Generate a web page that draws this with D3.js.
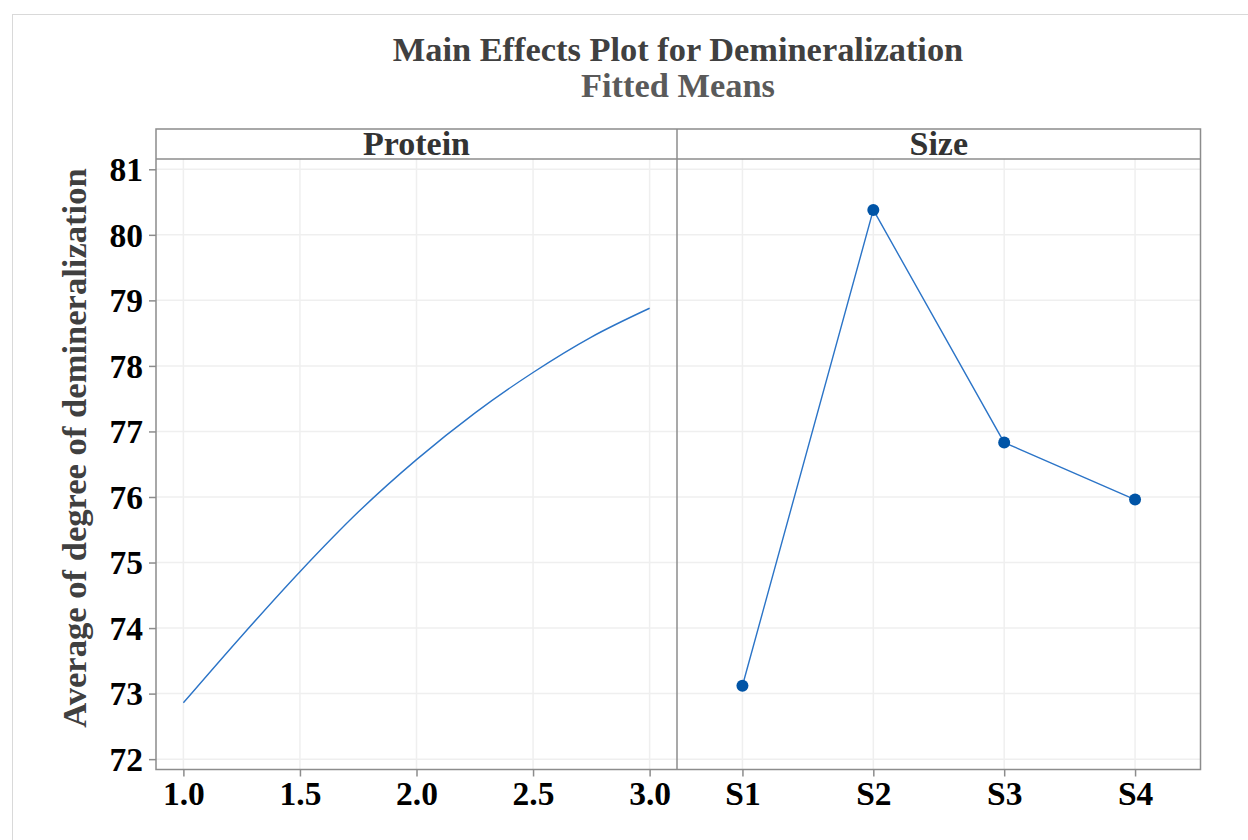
<!DOCTYPE html>
<html>
<head>
<meta charset="utf-8">
<script src="https://cdn.jsdelivr.net/npm/d3@7"></script>
<style>
  html, body { margin: 0; padding: 0; background: #fff; }
  svg { display: block; }
  text { font-family: "Liberation Serif", "Times New Roman", serif; font-weight: bold; }
</style>
</head>
<body>
<svg id="chart" width="1248" height="840"></svg>
<script>
// Fitted means for the continuous factor (Protein)
const proteinLevels = [1.0, 1.25, 1.5, 1.75, 2.0, 2.25, 2.5, 2.75, 3.0];
const proteinMeans  = [72.86, 73.88, 74.86, 75.77, 76.57, 77.28, 77.90, 78.44, 78.88];

// Fitted means for the categorical factor (Size)
const sizeLevels = ["S1", "S2", "S3", "S4"];
const sizeMeans  = [73.12, 80.38, 76.83, 75.96];

// Axis ticks
const yTicks = [72, 73, 74, 75, 76, 77, 78, 79, 80, 81];
const proteinTicks = [1.0, 1.5, 2.0, 2.5, 3.0];

const panelNames = ["Protein", "Size"];

const svg = d3.select("#chart");

// outer frame
svg.append("rect")
  .attr("x", 12.5).attr("y", 14.5)
  .attr("width", 1260).attr("height", 860)
  .attr("fill", "none").attr("stroke", "#d9d9d9").attr("stroke-width", 1);

const lineColor = "#2b74c7";
const dotColor = "#0054a6";
const gridColor = "#efefef";
const borderColor = "#8c8c8c";

const panelTop = 129, stripH = 30, panelBottom = 769.5;
const leftX = 156, midX = 677, rightX = 1200.5;

const y = d3.scaleLinear().domain([71.842, 81.157]).range([panelBottom, panelTop + stripH]);

const xP = d3.scaleLinear().domain([0.8825, 3.1175]).range([leftX, midX]);
const xS = d3.scalePoint().domain(sizeLevels).range([midX, rightX]).padding(0.5);

// titles
svg.append("text")
  .attr("x", 678).attr("y", 61)
  .attr("text-anchor", "middle")
  .attr("font-size", 34.4).attr("fill", "#404040")
  .text("Main Effects Plot for Demineralization");
svg.append("text")
  .attr("x", 678).attr("y", 97)
  .attr("text-anchor", "middle")
  .attr("font-size", 34.4).attr("fill", "#5a5a5a")
  .text("Fitted Means");

// y axis label
svg.append("text")
  .attr("transform", "translate(86,448) rotate(-90)")
  .attr("text-anchor", "middle")
  .attr("font-size", 34.6).attr("fill", "#404040")
  .text("Average of degree of demineralization");

function drawPanel(x0, x1, xScale, xTickVals, name) {
  const g = svg.append("g");
  // vertical grid
  g.selectAll(".vg").data(xTickVals).enter().append("line")
    .attr("x1", d => xScale(d)).attr("x2", d => xScale(d))
    .attr("y1", panelTop + stripH).attr("y2", panelBottom)
    .attr("stroke", gridColor).attr("stroke-width", 1.5);
  // horizontal grid
  g.selectAll(".hg").data(yTicks).enter().append("line")
    .attr("x1", x0).attr("x2", x1)
    .attr("y1", d => y(d)).attr("y2", d => y(d))
    .attr("stroke", gridColor).attr("stroke-width", 1.5);
  // strip
  g.append("line").attr("x1", x0).attr("x2", x1)
    .attr("y1", panelTop + stripH).attr("y2", panelTop + stripH)
    .attr("stroke", borderColor).attr("stroke-width", 1.5);
  g.append("text")
    .attr("x", (x0 + x1) / 2).attr("y", panelTop + 26)
    .attr("text-anchor", "middle")
    .attr("font-size", 34).attr("fill", "#333")
    .text(name);
  return g;
}

drawPanel(leftX, midX, xP, proteinTicks, panelNames[0]);
drawPanel(midX, rightX, xS, sizeLevels, panelNames[1]);

// panel borders
svg.append("rect")
  .attr("x", leftX).attr("y", panelTop)
  .attr("width", rightX - leftX).attr("height", panelBottom - panelTop)
  .attr("fill", "none").attr("stroke", borderColor).attr("stroke-width", 1.5);
svg.append("line")
  .attr("x1", midX).attr("x2", midX).attr("y1", panelTop).attr("y2", panelBottom)
  .attr("stroke", borderColor).attr("stroke-width", 1.5);

// axes
function styleAxis(sel) {
  sel.select(".domain").remove();
  sel.selectAll(".tick line").attr("stroke", borderColor).attr("stroke-width", 1.5);
  sel.selectAll(".tick text")
    .attr("font-family", "'Liberation Serif', 'Times New Roman', serif")
    .attr("font-weight", "bold").attr("font-size", 33.5).attr("fill", "#000");
}

svg.append("g")
  .attr("transform", `translate(${leftX},0)`)
  .call(d3.axisLeft(y).tickValues(yTicks).tickSize(7).tickPadding(6).tickFormat(d3.format("d")))
  .call(styleAxis)
  .selectAll(".tick text").attr("dy", "0.34em");

svg.append("g")
  .attr("transform", `translate(0,${panelBottom})`)
  .call(d3.axisBottom(xP).tickValues(proteinTicks).tickSize(7).tickPadding(5).tickFormat(d3.format(".1f")))
  .call(styleAxis);

svg.append("g")
  .attr("transform", `translate(0,${panelBottom})`)
  .call(d3.axisBottom(xS).tickSize(7).tickPadding(5))
  .call(styleAxis);

// Protein fitted curve
const proteinData = proteinLevels.map((p, i) => ({ x: p, v: proteinMeans[i] }));
svg.append("path")
  .datum(proteinData)
  .attr("fill", "none").attr("stroke", lineColor).attr("stroke-width", 1.4)
  .attr("d", d3.line().x(d => xP(d.x)).y(d => y(d.v)).curve(d3.curveMonotoneX));

// Size means
const sizeData = sizeLevels.map((s, i) => ({ s, v: sizeMeans[i] }));
svg.append("path")
  .datum(sizeData)
  .attr("fill", "none").attr("stroke", lineColor).attr("stroke-width", 1.4)
  .attr("d", d3.line().x(d => xS(d.s)).y(d => y(d.v)));
svg.selectAll(".dot").data(sizeData).enter().append("circle")
  .attr("cx", d => xS(d.s)).attr("cy", d => y(d.v)).attr("r", 6)
  .attr("fill", dotColor);
</script>
</body>
</html>
